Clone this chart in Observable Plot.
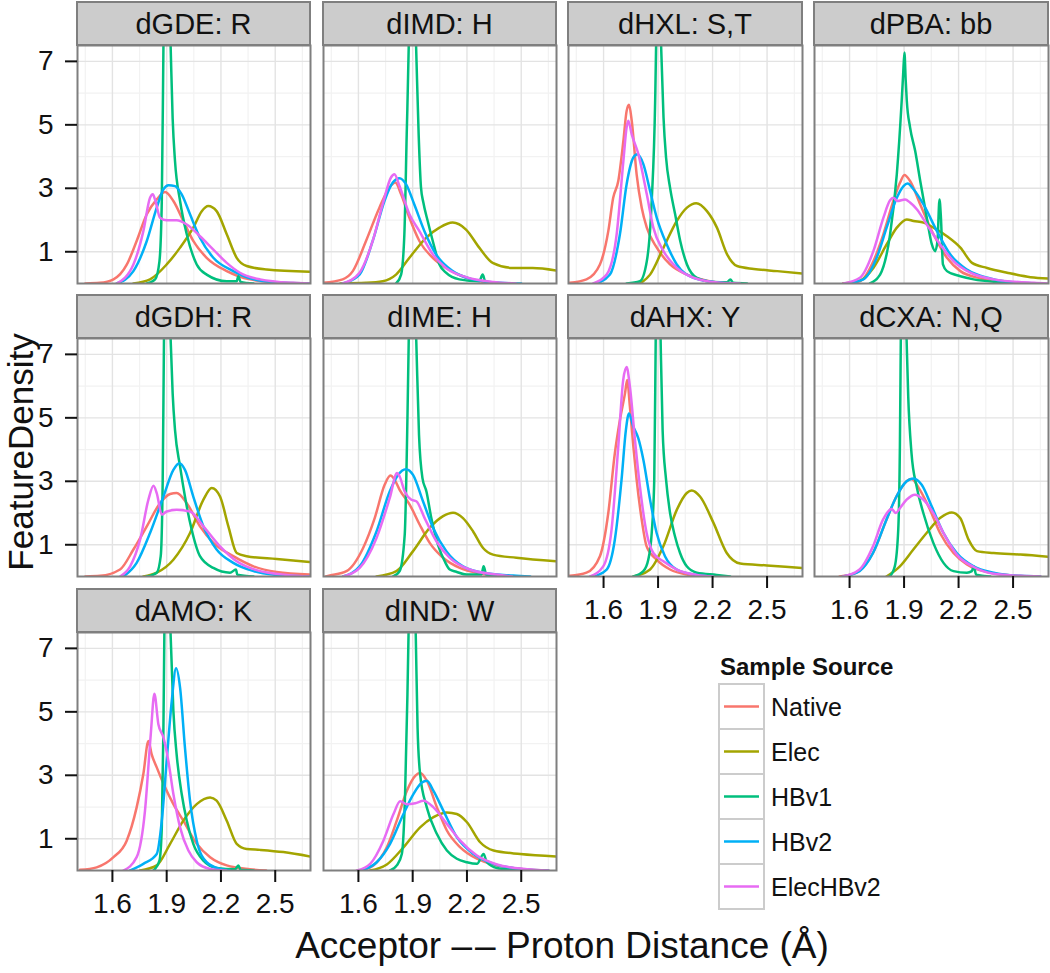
<!DOCTYPE html>
<html><head><meta charset="utf-8">
<script src="https://cdn.jsdelivr.net/npm/d3@7"></script>
<script src="https://cdn.jsdelivr.net/npm/@observablehq/plot@0.6"></script>
<style>
body{margin:0;background:#fff;}
#root{position:relative;width:1050px;height:973px;overflow:hidden;background:#fff;font-family:"Liberation Sans",Arial,Helvetica,sans-serif;}
.strip{position:absolute;box-sizing:border-box;background:#CCCCCC;border:2px solid #7F7F7F;display:flex;align-items:center;justify-content:center;font-size:29px;color:#111;white-space:nowrap;padding-top:1px;}
.panel{position:absolute;}
.panel text{font-size:28px !important;}
#overlay{position:absolute;left:0;top:0;pointer-events:none;}
</style>
</head><body>
<div id="root"></div>
<script>
// ---- categories / labels ----
const panelNames = ["dGDE: R","dIMD: H","dHXL: S,T","dPBA: bb","dGDH: R","dIME: H","dAHX: Y","dCXA: N,Q","dAMO: K","dIND: W"];
const sources = ["Native","Elec","HBv1","HBv2","ElecHBv2"];
const sourceColors = ["#F8766D","#A3A500","#00BF7D","#00B0F6","#E76BF3"];
const xTicks = [1.6,1.9,2.2,2.5];
const xMinor = [1.45,1.75,2.05,2.35,2.65];
const yTicks = [1,3,5,7];
const yMinor = [2,4,6];
const xTitle = "Acceptor \u2013\u200A\u2013 Proton Distance (\u00C5)";
const yTitle = "FeatureDensity";
const legendTitle = "Sample Source";

// ---- density curves, flat [x, y, x, y, ...] per source ----
const dGDE_R = {
  Native:[1.45,0,1.53,0.02,1.606,0.13,1.68,0.6,1.734,1.34,1.79,2.18,1.845,2.65,1.891,2.88,1.937,2.6,1.992,1.97,2.047,1.34,2.121,0.81,2.232,0.39,2.36,0.13,2.545,0.02,2.69,0],
  Elec:[1.716,0,1.808,0.13,1.9,0.6,1.974,1.13,2.047,1.76,2.094,2.28,2.13,2.44,2.176,2.28,2.232,1.55,2.287,0.81,2.342,0.55,2.453,0.44,2.69,0.37],
  HBv1:[1.79,0,1.836,0.13,1.86,0.7,1.873,2.6,1.882,7.44,1.895,13,1.922,7.44,1.933,5.2,1.946,3.86,1.974,2.6,2.011,1.55,2.066,0.6,2.121,0.28,2.232,0.07,2.287,0.07,2.296,0.23,2.309,0.05,2.38,0],
  HBv2:[1.624,0,1.716,0.39,1.79,1.34,1.845,2.39,1.882,2.97,1.91,3.1,1.946,3.07,1.983,2.81,2.029,2.18,2.084,1.44,2.158,0.81,2.268,0.39,2.38,0.13,2.545,0.02,2.69,0],
  ElecHBv2:[1.624,0,1.716,0.6,1.771,1.65,1.808,2.7,1.823,2.81,1.838,2.6,1.863,2.07,1.9,1.99,1.955,1.99,2.011,1.86,2.084,1.49,2.158,1.07,2.232,0.65,2.305,0.34,2.416,0.13,2.6,0.02,2.69,0]
};
const dIMD_H = {
  Native:[1.403,0.02,1.513,0.13,1.569,0.39,1.642,1.34,1.716,2.39,1.771,3.02,1.804,3.18,1.836,2.81,1.882,2.07,1.937,1.34,2.011,0.81,2.084,0.49,2.195,0.18,2.305,0.04,2.45,0],
  Elec:[1.5,0,1.642,0.02,1.734,0.07,1.808,0.28,1.882,0.81,1.974,1.44,2.048,1.76,2.121,1.92,2.195,1.7,2.268,1.13,2.342,0.65,2.453,0.49,2.563,0.49,2.695,0.41],
  HBv1:[1.808,0,1.836,0.28,1.854,1.55,1.867,4.7,1.878,7.44,1.89,13,1.919,7.44,1.933,4.7,1.946,3.02,1.959,2.55,1.983,1.97,2.011,1.34,2.048,0.6,2.084,0.34,2.158,0.13,2.268,0.07,2.287,0.28,2.302,0.05,2.38,0],
  HBv2:[1.513,0,1.606,0.28,1.679,1.34,1.744,2.6,1.79,3.18,1.827,3.32,1.863,3.13,1.909,2.49,1.965,1.65,2.029,0.92,2.121,0.39,2.232,0.13,2.38,0.02,2.5,0],
  ElecHBv2:[1.513,0,1.606,0.34,1.679,1.34,1.734,2.49,1.78,3.34,1.799,3.44,1.827,3.07,1.882,2.18,1.937,1.65,2.011,0.92,2.084,0.49,2.195,0.2,2.342,0.05,2.47,0]
};
const dHXL_ST = {
  Native:[1.414,0.02,1.506,0.13,1.58,0.6,1.626,1.65,1.653,2.7,1.681,3.23,1.709,4.49,1.727,5.44,1.74,5.63,1.755,5.13,1.782,3.44,1.81,2.39,1.838,1.76,1.893,1.13,1.966,0.6,2.059,0.28,2.17,0.09,2.316,0],
  Elec:[1.8,0,1.856,0.28,1.93,1.13,2.003,1.97,2.059,2.39,2.11,2.53,2.169,2.28,2.224,1.76,2.28,0.92,2.335,0.55,2.427,0.46,2.556,0.39,2.695,0.31],
  HBv1:[1.727,0,1.8,0.07,1.838,0.7,1.865,2.6,1.884,5.76,1.889,7.44,1.897,13,1.917,7.44,1.93,5.23,1.944,3.97,1.966,3.02,1.994,2.18,2.022,1.34,2.059,0.6,2.114,0.18,2.206,0.05,2.28,0.04,2.298,0.13,2.313,0.02,2.39,0],
  HBv2:[1.561,0,1.635,0.28,1.69,1.55,1.727,3.13,1.764,3.97,1.786,4.07,1.819,3.76,1.856,2.92,1.893,2.07,1.948,1.23,2.003,0.6,2.095,0.18,2.206,0.05,2.3,0],
  ElecHBv2:[1.543,0,1.617,0.28,1.672,1.55,1.709,3.86,1.727,4.92,1.736,5.13,1.755,4.7,1.792,4.07,1.838,2.81,1.874,1.76,1.93,1.02,2.003,0.49,2.095,0.18,2.243,0.02,2.35,0]
};
const dPBA_bb = {
  Native:[1.565,0,1.657,0.07,1.731,0.7,1.786,1.55,1.841,2.6,1.878,3.18,1.902,3.42,1.933,3.23,1.989,2.49,2.062,1.55,2.136,0.81,2.21,0.39,2.32,0.16,2.467,0.04,2.6,0],
  Elec:[1.565,0,1.657,0.09,1.731,0.49,1.804,1.23,1.86,1.76,1.915,2.02,1.952,1.97,2.007,1.92,2.062,1.76,2.136,1.49,2.21,1.13,2.274,0.65,2.357,0.49,2.467,0.34,2.596,0.2,2.695,0.16],
  HBv1:[1.712,0,1.768,0.28,1.823,1.55,1.86,3.44,1.887,5.76,1.895,6.6,1.902,7.28,1.909,6.4,1.915,5.76,1.933,4.92,1.961,4.18,1.989,3.23,2.025,2.07,2.053,1.23,2.071,1.02,2.084,1.34,2.095,2.65,2.103,2.07,2.114,0.6,2.136,0.39,2.21,0.23,2.283,0.13,2.43,0.04,2.615,0],
  HBv2:[1.583,0,1.676,0.13,1.749,0.81,1.804,1.76,1.86,2.7,1.897,3.07,1.919,3.15,1.952,2.97,2.007,2.49,2.081,1.65,2.154,0.92,2.246,0.44,2.375,0.16,2.541,0.02,2.65,0],
  ElecHBv2:[1.565,0,1.657,0.18,1.731,1.02,1.786,2.07,1.823,2.62,1.841,2.7,1.863,2.6,1.906,2.65,1.933,2.55,1.97,2.34,2.025,1.86,2.099,1.23,2.173,0.7,2.265,0.34,2.394,0.13,2.615,0.02,2.695,0]
};
const dGDH_R = {
  Native:[1.45,0,1.532,0.02,1.642,0.22,1.716,0.85,1.79,1.58,1.863,2.31,1.919,2.6,1.955,2.63,2.011,2.31,2.084,1.58,2.158,1.06,2.268,0.64,2.38,0.32,2.508,0.14,2.69,0.06],
  Elec:[1.771,0,1.845,0.12,1.937,0.53,2.029,1.37,2.103,2.42,2.149,2.79,2.195,2.52,2.241,1.58,2.287,0.74,2.342,0.64,2.508,0.55,2.69,0.46],
  HBv1:[1.79,0,1.845,0.12,1.867,0.64,1.878,3.05,1.885,7.45,1.897,13,1.922,7.45,1.933,5.77,1.946,4.62,1.974,3.47,2.001,2.52,2.038,1.48,2.084,0.64,2.158,0.27,2.25,0.12,2.283,0.22,2.29,0.06,2.38,0],
  HBv2:[1.661,0,1.734,0.43,1.808,1.37,1.882,2.52,1.937,3.36,1.97,3.57,2.001,3.36,2.047,2.52,2.103,1.58,2.176,0.85,2.268,0.43,2.38,0.17,2.545,0.03,2.69,0],
  ElecHBv2:[1.642,0,1.698,0.32,1.753,1.16,1.799,2.42,1.827,2.86,1.845,2.63,1.873,1.95,1.9,2.05,1.955,2.1,2.029,2.05,2.103,1.58,2.195,0.95,2.287,0.48,2.397,0.2,2.563,0.05,2.69,0]
};
const dIME_H = {
  Native:[1.42,0,1.442,0.03,1.534,0.17,1.626,0.9,1.69,1.84,1.745,2.89,1.777,3.18,1.8,3.05,1.828,2.73,1.884,2.26,1.939,1.63,1.994,1.06,2.068,0.59,2.16,0.27,2.289,0.08,2.436,0],
  Elec:[1.7,0,1.81,0.17,1.902,0.8,1.994,1.53,2.068,1.9,2.123,2.01,2.178,1.84,2.234,1.42,2.289,0.9,2.344,0.69,2.473,0.59,2.695,0.48],
  HBv1:[1.792,0,1.828,0.17,1.856,1.32,1.871,4.98,1.878,7.39,1.89,13,1.92,7.39,1.935,4.46,1.954,3.1,1.976,2.68,2.003,1.84,2.04,1.0,2.077,0.48,2.105,0.22,2.141,0.15,2.197,0.06,2.28,0.06,2.292,0.32,2.307,0.06,2.4,0],
  HBv2:[1.515,0,1.607,0.32,1.7,1.42,1.773,2.68,1.819,3.2,1.862,3.38,1.902,3.2,1.957,2.37,2.013,1.53,2.086,0.8,2.178,0.32,2.307,0.1,2.455,0.03,2.55,0],
  ElecHBv2:[1.515,0,1.607,0.27,1.7,1.21,1.773,2.47,1.814,3.26,1.828,3.15,1.856,2.68,1.893,2.42,1.92,2.37,1.966,1.84,2.031,1.11,2.105,0.59,2.215,0.22,2.362,0.06,2.45,0]
};
const dAHX_Y = {
  Native:[1.414,0.02,1.506,0.12,1.58,0.64,1.626,2.0,1.662,3.88,1.69,4.93,1.718,5.77,1.73,6.19,1.745,5.35,1.764,4.09,1.782,3.05,1.81,1.79,1.837,0.95,1.892,0.53,1.966,0.22,2.058,0.06,2.17,0],
  Elec:[1.764,0,1.856,0.22,1.929,0.95,2.003,2.1,2.058,2.63,2.085,2.71,2.131,2.52,2.205,1.69,2.278,0.74,2.352,0.41,2.499,0.35,2.695,0.27],
  HBv1:[1.764,0,1.819,0.17,1.846,0.53,1.865,1.37,1.879,3.05,1.887,7.45,1.897,13,1.914,7.45,1.925,4.62,1.944,3.05,1.966,2.0,1.993,1.27,2.021,0.74,2.058,0.32,2.113,0.12,2.223,0.05,2.297,0],
  HBv2:[1.543,0,1.617,0.22,1.662,1.16,1.699,3.05,1.723,4.62,1.74,5.14,1.764,4.72,1.791,4.36,1.819,3.68,1.856,2.42,1.892,1.37,1.938,0.64,2.003,0.22,2.113,0.05,2.2,0],
  ElecHBv2:[1.525,0,1.598,0.32,1.644,1.48,1.681,4.09,1.708,6.19,1.727,6.6,1.745,5.98,1.773,4.3,1.8,2.84,1.837,1.37,1.874,0.74,1.929,0.48,2.003,0.22,2.113,0.05,2.2,0]
};
const dCXA_NQ = {
  Native:[1.545,0,1.637,0.12,1.729,0.74,1.803,1.79,1.858,2.52,1.914,3.0,1.941,3.07,1.987,2.73,2.043,2.1,2.098,1.37,2.172,0.74,2.246,0.38,2.356,0.14,2.504,0.03,2.65,0],
  Elec:[1.803,0,1.877,0.32,1.951,0.85,2.024,1.37,2.098,1.84,2.163,2.02,2.209,1.84,2.255,1.16,2.301,0.8,2.393,0.74,2.541,0.69,2.695,0.62],
  HBv1:[1.821,0,1.849,0.32,1.868,1.48,1.877,4.09,1.882,7.45,1.89,13,1.914,7.45,1.923,5.66,1.941,3.88,1.969,2.84,2.006,2.0,2.061,1.06,2.117,0.43,2.172,0.17,2.246,0.12,2.273,0.17,2.283,0.32,2.297,0.06,2.375,0],
  HBv2:[1.563,0,1.655,0.17,1.729,0.74,1.803,1.79,1.858,2.52,1.914,3.0,1.951,3.09,1.997,2.89,2.052,2.21,2.117,1.37,2.19,0.74,2.283,0.32,2.393,0.12,2.541,0.02,2.65,0],
  ElecHBv2:[1.563,0,1.655,0.22,1.729,0.95,1.784,1.79,1.831,2.13,1.855,2.0,1.877,2.15,1.914,2.42,1.96,2.58,2.006,2.42,2.061,2.0,2.117,1.37,2.19,0.69,2.283,0.3,2.393,0.09,2.541,0.02,2.65,0]
};
const dAMO_K = {
  Native:[1.421,0.02,1.513,0.1,1.606,0.42,1.679,0.94,1.734,1.99,1.771,3.04,1.799,4.08,1.817,3.66,1.845,3.25,1.891,2.62,1.937,2.09,1.992,1.57,2.066,0.84,2.14,0.42,2.232,0.16,2.36,0.04,2.45,0],
  Elec:[1.753,0,1.845,0.16,1.919,0.84,1.992,1.57,2.066,2.09,2.14,2.3,2.176,2.2,2.232,1.57,2.287,0.84,2.342,0.68,2.416,0.65,2.545,0.58,2.695,0.44],
  HBv1:[1.827,0,1.86,0.31,1.873,1.36,1.882,4.5,1.887,7.38,1.9,13,1.922,7.38,1.937,5.03,1.955,3.66,1.983,2.41,2.011,1.57,2.047,0.84,2.103,0.31,2.176,0.08,2.278,0.04,2.296,0.16,2.309,0.02,2.38,0],
  HBv2:[1.698,0,1.771,0.21,1.845,0.52,1.873,1.57,1.9,3.46,1.928,5.34,1.952,6.37,1.974,5.76,2.001,3.87,2.029,2.2,2.066,0.94,2.121,0.26,2.195,0.05,2.25,0],
  ElecHBv2:[1.661,0,1.734,0.42,1.78,1.88,1.812,4.29,1.832,5.57,1.854,4.61,1.882,4.19,1.909,3.46,1.937,2.41,1.974,1.36,2.02,0.63,2.066,0.26,2.14,0.05,2.23,0]
};
const dIND_W = {
  Native:[1.609,0,1.683,0.16,1.757,0.73,1.812,1.57,1.868,2.51,1.914,2.98,1.941,3.07,1.978,2.83,2.034,1.99,2.089,1.26,2.163,0.73,2.255,0.37,2.366,0.16,2.513,0.04,2.65,0],
  Elec:[1.665,0,1.757,0.19,1.849,0.73,1.941,1.36,2.015,1.68,2.089,1.83,2.144,1.78,2.2,1.52,2.273,0.89,2.347,0.63,2.495,0.52,2.698,0.44],
  HBv1:[1.775,0,1.812,0.16,1.84,0.52,1.858,2.41,1.871,5.55,1.877,7.41,1.89,13,1.917,7.41,1.927,4.5,1.941,3.04,1.978,1.99,2.034,1.15,2.089,0.63,2.144,0.37,2.2,0.26,2.255,0.21,2.292,0.52,2.31,0.26,2.366,0.08,2.458,0.02,2.55,0],
  HBv2:[1.609,0,1.701,0.26,1.775,0.84,1.849,1.78,1.904,2.41,1.951,2.77,1.978,2.83,2.015,2.51,2.07,1.88,2.144,1.05,2.236,0.52,2.347,0.21,2.495,0.05,2.65,0],
  ElecHBv2:[1.591,0,1.665,0.21,1.738,0.94,1.794,1.78,1.831,2.18,1.868,2.09,1.914,2.12,1.96,2.2,2.015,1.99,2.089,1.47,2.163,0.94,2.255,0.47,2.366,0.19,2.532,0.04,2.65,0]
};
const panelData = [dGDE_R,dIMD_H,dHXL_ST,dPBA_bb,dGDH_R,dIME_H,dAHX_Y,dCXA_NQ,dAMO_K,dIND_W];

// ---- layout ----
const root = document.getElementById("root");
const FONT = '"Liberation Sans",Arial,Helvetica,sans-serif';
const colLeft = [77, 323, 568, 814];
const colW = [233, 233, 234, 234];
const rowTop = [45, 338, 632];   // plot-area tops
const PH = 238, SH = 44;
const xAxisPanels = [6, 7, 8, 9];

panelData.forEach((pd, i) => {
  const col = i % 4, row = Math.floor(i / 4);
  const rows = [];
  sources.forEach(s => {
    const a = pd[s];
    for (let k = 0; k < a.length; k += 2) rows.push({source: s, x: a[k], y: a[k + 1]});
  });
  const hasX = xAxisPanels.includes(i), hasY = col === 0;
  const ml = hasY ? 77 : 2, mr = 2, mt = 2, mb = hasX ? 62 : 2;
  const w = colW[col];
  const chart = Plot.plot({
    width: w + ml + mr, height: PH + mt + mb,
    marginLeft: ml, marginRight: mr, marginTop: mt, marginBottom: mb,
    style: {background: "transparent", fontFamily: FONT, fontSize: "28px", color: "#111", overflow: "visible"},
    x: {domain: [1.407, 2.695], axis: null},
    y: {domain: [0, 7.5], axis: null},
    color: {domain: sources, range: sourceColors},
    marks: [
      Plot.ruleX(xMinor, {stroke: "#F2F2F2", strokeWidth: 1.2}),
      Plot.ruleY(yMinor, {stroke: "#F2F2F2", strokeWidth: 1.2}),
      Plot.ruleX(xTicks, {stroke: "#E3E3E3", strokeWidth: 1.4}),
      Plot.ruleY(yTicks, {stroke: "#E3E3E3", strokeWidth: 1.4}),
      Plot.line(rows, {x: "x", y: "y", z: "source", stroke: "source", strokeWidth: 2.5, curve: "monotone-x", clip: true}),
      Plot.frame({stroke: "#7F7F7F", strokeWidth: 2}),
      hasX ? Plot.axisX(xTicks, {tickSize: 12, tickPadding: 11, strokeWidth: 2, fontSize: 28, label: null, tickFormat: d => d.toFixed(1)}) : null,
      hasY ? Plot.axisY(yTicks, {tickSize: 12, tickPadding: 12, strokeWidth: 2, fontSize: 28, label: null, tickFormat: d => String(d)}) : null
    ]
  });
  chart.classList.add("panel");
  chart.style.left = (colLeft[col] - ml) + "px";
  chart.style.top = (rowTop[row] - mt) + "px";
  root.appendChild(chart);

  const strip = document.createElement("div");
  strip.className = "strip";
  strip.style.left = (colLeft[col] - 1) + "px";
  strip.style.top = (rowTop[row] - SH) + "px";
  strip.style.width = (w + 2) + "px";
  strip.style.height = (SH + 1) + "px";
  strip.textContent = panelNames[i];
  root.appendChild(strip);
});

// ---- titles + legend ----
const svg = d3.select(root).append("svg").attr("id", "overlay")
  .attr("width", 1050).attr("height", 973).style("font-family", FONT);
svg.append("text").attr("x", 562).attr("y", 958).attr("text-anchor", "middle")
  .attr("font-size", 37).attr("fill", "#111").text(xTitle);
svg.append("text").attr("transform", "translate(33,452) rotate(-90)").attr("text-anchor", "middle")
  .attr("font-size", 35).attr("fill", "#111").text(yTitle);
svg.append("text").attr("x", 720).attr("y", 675).attr("font-size", 24).attr("font-weight", "bold")
  .attr("fill", "#111").text(legendTitle);
sources.forEach((s, k) => {
  const y0 = 684 + k * 45;
  svg.append("rect").attr("x", 719).attr("y", y0).attr("width", 45).attr("height", 45)
    .attr("fill", "#fff").attr("stroke", "#CCCCCC").attr("stroke-width", 2);
  svg.append("line").attr("x1", 724).attr("x2", 759).attr("y1", y0 + 22.5).attr("y2", y0 + 22.5)
    .attr("stroke", sourceColors[k]).attr("stroke-width", 2.4);
  svg.append("text").attr("x", 771).attr("y", y0 + 22.5).attr("dy", "0.36em")
    .attr("font-size", 25).attr("fill", "#111").text(s);
});
</script>
</body></html>
